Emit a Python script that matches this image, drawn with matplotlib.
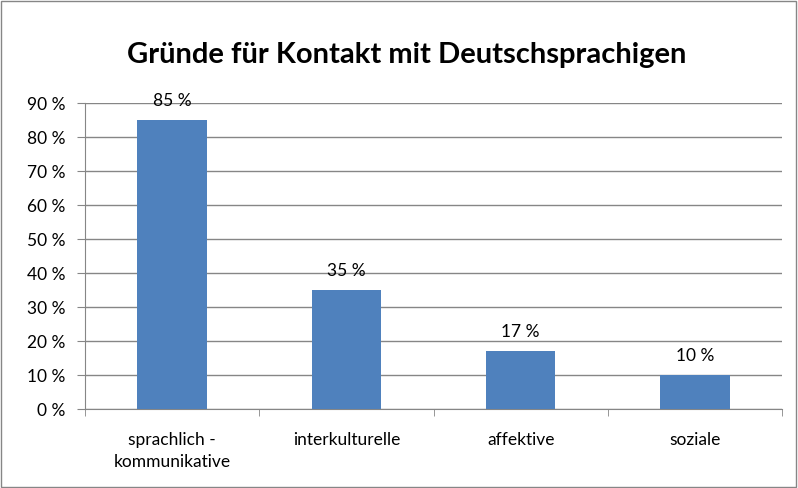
import numpy as np
import matplotlib.pyplot as plt
from matplotlib.patches import Rectangle

categories = ['sprachlich -\nkommunikative', 'interkulturelle', 'affektive', 'soziale']
values = [85, 35, 17, 10]
yticks = [0, 10, 20, 30, 40, 50, 60, 70, 80, 90]

plt.rcParams['font.family'] = ['Lato', 'DejaVu Sans']

fig = plt.figure(figsize=(7.98, 4.89), dpi=100)
ax = fig.add_axes([85/798, 1 - 410/489, (782 - 85)/798, (410 - 104)/489])

x = np.arange(len(categories))
ax.bar(x, values, width=0.40, color='#4F81BD', zorder=3)
for xi, v in zip(x, values):
    ax.text(xi, v + 3.6, f'{v} %', ha='center', va='bottom', fontsize=12.5)

ax.set_xlim(-0.5, len(categories) - 0.5)
ax.set_ylim(0, 90)
ax.set_yticks(yticks)
ax.set_yticklabels([f'{t} %' for t in yticks], fontsize=12.5)
ax.yaxis.grid(True, color='#868686', linewidth=1, zorder=0)

ax.set_xticks(x)
ax.set_xticklabels(categories, fontsize=12.5, linespacing=1.45)
ax.set_xticks(np.arange(len(categories) + 1) - 0.5, minor=True)
ax.tick_params(axis='x', which='major', length=0, pad=16)
ax.tick_params(axis='x', which='minor', length=5, color='#868686')
ax.tick_params(axis='y', length=6, color='#868686', pad=8)

for s in ['top', 'right']:
    ax.spines[s].set_visible(False)
for s in ['left', 'bottom']:
    ax.spines[s].set_color('#868686')

fig.text(0.51, 1 - 55/489, 'Gründe für Kontakt mit Deutschsprachigen',
         ha='center', va='center', fontsize=21, fontweight='bold')

fig.patches.append(Rectangle((0.5/798, 1.5/489), 795/798, 486/489, transform=fig.transFigure,
                             fill=False, edgecolor='#868686', linewidth=1))

fig.savefig('out.png', dpi=100)
